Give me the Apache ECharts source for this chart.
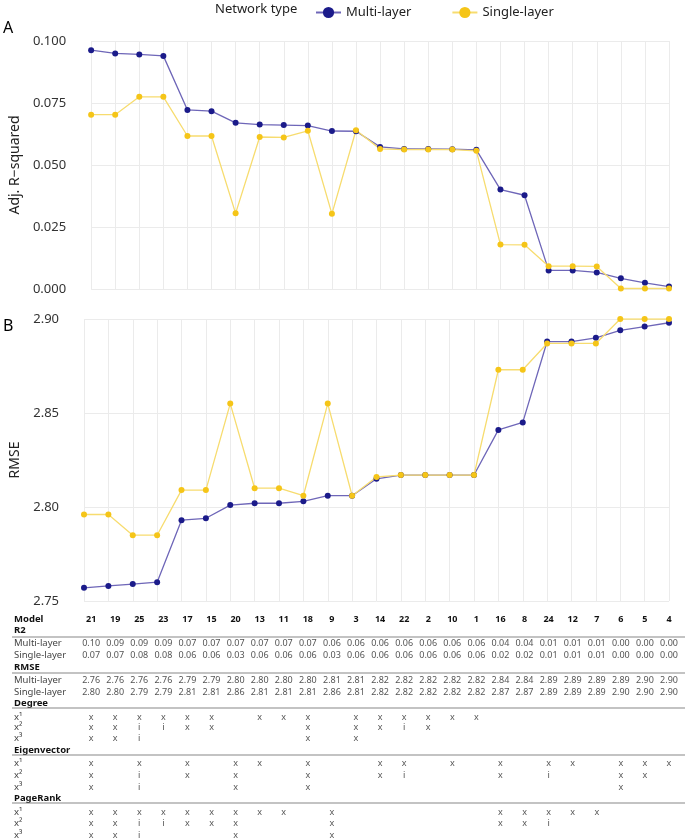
<!DOCTYPE html>
<html><head><meta charset="utf-8">
<script src="https://cdn.jsdelivr.net/npm/echarts@6/dist/echarts.min.js"></script>
<style>html,body{margin:0;padding:0;background:#fff}#c{width:685px;height:838px}</style>
</head><body><div id="c"></div>
<script>
const models=['21','19','25','23','17','15','20','13','11','18','9','3','14','22','2','10','1','16','8','24','12','7','6','5','4'];
const r2Multi=[0.0963,0.0950,0.0946,0.0940,0.0722,0.0717,0.0670,0.0663,0.0661,0.0659,0.0637,0.0636,0.0573,0.0565,0.0565,0.0564,0.0561,0.0401,0.0378,0.0075,0.0075,0.0067,0.0043,0.0025,0.0010];
const r2Single=[0.0703,0.0703,0.0775,0.0775,0.0617,0.0617,0.0305,0.0613,0.0611,0.0638,0.0303,0.0640,0.0565,0.0562,0.0563,0.0562,0.0557,0.0179,0.0178,0.0092,0.0092,0.0091,0.0002,0.0002,0.0002];
const rmseMulti=[2.757,2.758,2.759,2.760,2.793,2.794,2.801,2.802,2.802,2.803,2.806,2.806,2.815,2.817,2.817,2.817,2.817,2.841,2.845,2.888,2.888,2.890,2.894,2.896,2.898];
const rmseSingle=[2.796,2.796,2.785,2.785,2.809,2.809,2.855,2.810,2.810,2.806,2.855,2.806,2.816,2.817,2.817,2.817,2.817,2.873,2.873,2.887,2.887,2.887,2.900,2.900,2.900];
const r2MultiTxt=['0.10','0.09','0.09','0.09','0.07','0.07','0.07','0.07','0.07','0.07','0.06','0.06','0.06','0.06','0.06','0.06','0.06','0.04','0.04','0.01','0.01','0.01','0.00','0.00','0.00'];
const r2SingleTxt=['0.07','0.07','0.08','0.08','0.06','0.06','0.03','0.06','0.06','0.06','0.03','0.06','0.06','0.06','0.06','0.06','0.06','0.02','0.02','0.01','0.01','0.01','0.00','0.00','0.00'];
const rmseMultiTxt=['2.76','2.76','2.76','2.76','2.79','2.79','2.80','2.80','2.80','2.80','2.81','2.81','2.82','2.82','2.82','2.82','2.82','2.84','2.84','2.89','2.89','2.89','2.89','2.90','2.90'];
const rmseSingleTxt=['2.80','2.80','2.79','2.79','2.81','2.81','2.86','2.81','2.81','2.81','2.86','2.81','2.82','2.82','2.82','2.82','2.82','2.87','2.87','2.89','2.89','2.89','2.90','2.90','2.90'];
const _='';
const degX1=['x','x','x','x','x','x',_,'x','x','x',_,'x','x','x','x','x','x',_,_,_,_,_,_,_,_];
const degX2=['x','x','i','i','x','x',_,_,_,'x',_,'x','x','i','x',_,_,_,_,_,_,_,_,_,_];
const degX3=['x','x','i',_,_,_,_,_,_,'x',_,'x',_,_,_,_,_,_,_,_,_,_,_,_,_];
const eigX1=['x',_,'x',_,'x',_,'x','x',_,'x',_,_,'x','x',_,'x',_,'x',_,'x','x',_,'x','x','x'];
const eigX2=['x',_,'i',_,'x',_,'x',_,_,'x',_,_,'x','i',_,_,_,'x',_,'i',_,_,'x','x',_];
const eigX3=['x',_,'i',_,_,_,'x',_,_,'x',_,_,_,_,_,_,_,_,_,_,_,_,'x',_,_];
const prX1=['x','x','x','x','x','x','x','x','x',_,'x',_,_,_,_,_,_,'x','x','x','x','x',_,_,_];
const prX2=['x','x','i','i','x','x','x',_,_,_,'x',_,_,_,_,_,_,'x','x','i',_,_,_,_,_];
const prX3=['x','x','i',_,_,_,'x',_,_,_,'x',_,_,_,_,_,_,_,_,_,_,_,_,_,_];

const MC='#1b1b8a', ML='#6e66b8', SC='#f5c518', SL='#f7dc6f';
const chart=echarts.init(document.getElementById('c'));
const F='Noto Sans';
function ser(name,data,ai,pc,lc){return {name,type:'line',data,xAxisIndex:ai,yAxisIndex:ai,symbol:'circle',symbolSize:6,itemStyle:{color:pc},lineStyle:{color:lc,width:1.3},animation:false};}
const yBase={splitLine:{lineStyle:{color:'#ebebeb'}},axisLine:{show:false},axisTick:{show:false},axisLabel:{color:'#333',fontSize:13,fontFamily:F,margin:25},nameLocation:'middle',nameTextStyle:{color:'#222',fontSize:14,fontFamily:F}};
chart.setOption({
 textStyle:{fontFamily:F},
 legend:{top:1,left:310,itemGap:40,textStyle:{fontSize:13,color:'#222'},data:[{name:'Multi-layer',itemStyle:{color:MC}},{name:'Single-layer',itemStyle:{color:SC}}]},
 grid:[{left:82,right:16,top:41,height:248},{left:82,right:16,top:319,height:282}],
 xAxis:[0,1].map(i=>({type:'category',gridIndex:i,data:models,boundaryGap:false,axisLabel:{show:false},axisTick:{show:false},axisLine:{show:false},splitLine:{show:true,lineStyle:{color:'#ebebeb'}}})),
 yAxis:[Object.assign({},yBase,{gridIndex:0,min:0,max:0.1,interval:0.025,name:'Adj. R−squared',nameGap:62,axisLabel:Object.assign({},yBase.axisLabel,{formatter:v=>v.toFixed(3)})}),
        Object.assign({},yBase,{gridIndex:1,min:2.75,max:2.9,interval:0.05,name:'RMSE',nameGap:62,axisLabel:Object.assign({},yBase.axisLabel,{formatter:v=>v.toFixed(2)})})],
 series:[ser('Multi-layer',r2Multi,0,MC,ML),ser('Single-layer',r2Single,0,SC,SL),ser('Multi-layer',rmseMulti,1,MC,ML),ser('Single-layer',rmseSingle,1,SC,SL)]
});
const g=[];
g.push({type:'text',left:215,top:3,style:{text:'Network type',fontSize:13,fill:'#222',fontFamily:F}});
g.push({type:'text',left:3,top:20,style:{text:'A',fontSize:16,fill:'#000',fontFamily:F}});
g.push({type:'text',left:3,top:318,style:{text:'B',fontSize:16,fill:'#000',fontFamily:F}});
const rows=[
 [619,'Model',models,true],[630,'R2',null,true],[643,'Multi-layer',r2MultiTxt],[655,'Single-layer',r2SingleTxt],
 [667,'RMSE',null,true],[680,'Multi-layer',rmseMultiTxt],[692,'Single-layer',rmseSingleTxt],
 [703,'Degree',null,true],[717,'x¹',degX1],[727,'x²',degX2],[738,'x³',degX3],
 [750,'Eigenvector',null,true],[763,'x¹',eigX1],[775,'x²',eigX2],[787,'x³',eigX3],
 [798,'PageRank',null,true],[812,'x¹',prX1],[823,'x²',prX2],[835,'x³',prX3]];
const cols=models.map(m=>chart.convertToPixel({xAxisIndex:0},m));
rows.forEach(([y,lab,vals,bold])=>{
 g.push({type:'text',x:14,y:y,style:{text:lab,fontSize:9.5,fontWeight:bold?'bold':'normal',fill:bold?'#111':'#444',fontFamily:F,verticalAlign:'middle'}});
 if(vals) vals.forEach((v,i)=>{ if(v) g.push({type:'text',x:cols[i],y:y,style:{text:v,fontSize:9,fontWeight:lab==='Model'?'bold':'normal',fill:lab==='Model'?'#111':'#555',fontFamily:F,align:'center',verticalAlign:'middle'}});});
});
[637,673,708,755,803].forEach(y=>g.push({type:'line',shape:{x1:12,y1:y,x2:685,y2:y},style:{stroke:'#888',lineWidth:1.2}}));
chart.setOption({graphic:g});
</script></body></html>
